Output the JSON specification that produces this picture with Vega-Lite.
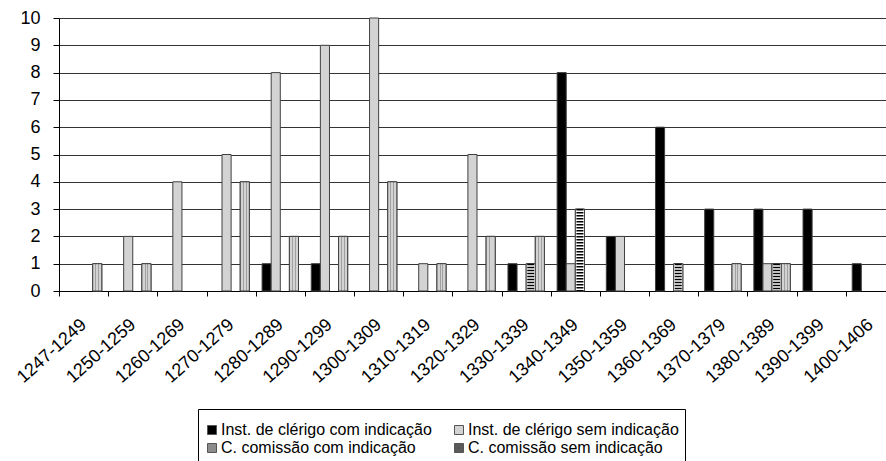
{
  "$schema": "https://vega.github.io/schema/vega-lite/v6.json",
  "autosize": {"type": "none"},
  "width": 836,
  "height": 273,
  "padding": {"left": 59, "top": 18, "right": 0, "bottom": 170},
  "background": "white",
  "data": {
    "values": [
      {"cat": "1247-1249", "series": "C. comissão sem indicação", "value": 1},
      {"cat": "1250-1259", "series": "Inst. de clérigo sem indicação", "value": 2},
      {"cat": "1250-1259", "series": "C. comissão sem indicação", "value": 1},
      {"cat": "1260-1269", "series": "Inst. de clérigo sem indicação", "value": 4},
      {"cat": "1270-1279", "series": "Inst. de clérigo sem indicação", "value": 5},
      {"cat": "1270-1279", "series": "C. comissão sem indicação", "value": 4},
      {"cat": "1280-1289", "series": "Inst. de clérigo com indicação", "value": 1},
      {"cat": "1280-1289", "series": "Inst. de clérigo sem indicação", "value": 8},
      {"cat": "1280-1289", "series": "C. comissão sem indicação", "value": 2},
      {"cat": "1290-1299", "series": "Inst. de clérigo com indicação", "value": 1},
      {"cat": "1290-1299", "series": "Inst. de clérigo sem indicação", "value": 9},
      {"cat": "1290-1299", "series": "C. comissão sem indicação", "value": 2},
      {"cat": "1300-1309", "series": "Inst. de clérigo sem indicação", "value": 10},
      {"cat": "1300-1309", "series": "C. comissão sem indicação", "value": 4},
      {"cat": "1310-1319", "series": "Inst. de clérigo sem indicação", "value": 1},
      {"cat": "1310-1319", "series": "C. comissão sem indicação", "value": 1},
      {"cat": "1320-1329", "series": "Inst. de clérigo sem indicação", "value": 5},
      {"cat": "1320-1329", "series": "C. comissão sem indicação", "value": 2},
      {"cat": "1330-1339", "series": "Inst. de clérigo com indicação", "value": 1},
      {"cat": "1330-1339", "series": "C. comissão com indicação", "value": 1},
      {"cat": "1330-1339", "series": "C. comissão sem indicação", "value": 2},
      {"cat": "1340-1349", "series": "Inst. de clérigo com indicação", "value": 8},
      {"cat": "1340-1349", "series": "Inst. de clérigo sem indicação", "value": 1},
      {"cat": "1340-1349", "series": "C. comissão com indicação", "value": 3},
      {"cat": "1350-1359", "series": "Inst. de clérigo com indicação", "value": 2},
      {"cat": "1350-1359", "series": "Inst. de clérigo sem indicação", "value": 2},
      {"cat": "1360-1369", "series": "Inst. de clérigo com indicação", "value": 6},
      {"cat": "1360-1369", "series": "C. comissão com indicação", "value": 1},
      {"cat": "1370-1379", "series": "Inst. de clérigo com indicação", "value": 3},
      {"cat": "1370-1379", "series": "C. comissão sem indicação", "value": 1},
      {"cat": "1380-1389", "series": "Inst. de clérigo com indicação", "value": 3},
      {"cat": "1380-1389", "series": "Inst. de clérigo sem indicação", "value": 1},
      {"cat": "1380-1389", "series": "C. comissão com indicação", "value": 1},
      {"cat": "1380-1389", "series": "C. comissão sem indicação", "value": 1},
      {"cat": "1390-1399", "series": "Inst. de clérigo com indicação", "value": 3},
      {"cat": "1400-1406", "series": "Inst. de clérigo com indicação", "value": 1}
    ]
  },
  "encoding": {
    "x": {
      "field": "cat", "type": "nominal", "sort": null,
      "scale": {
        "domain": ["1247-1249","1250-1259","1260-1269","1270-1279","1280-1289","1290-1299","1300-1309","1310-1319","1320-1329","1330-1339","1340-1349","1350-1359","1360-1369","1370-1379","1380-1389","1390-1399","1400-1406"],
        "paddingInner": 0, "paddingOuter": 0
      },
      "axis": {
        "title": null, "tickBand": "extent", "labelAngle": -42, "labelAlign": "right", "labelBaseline": "middle",
        "labelPadding": 26, "tickSize": 5, "tickColor": "#000", "domainColor": "#000", "labelColor": "#000",
        "labelFont": "Liberation Sans", "labelFontSize": 18, "grid": false
      }
    },
    "xOffset": {
      "field": "series", "type": "nominal",
      "scale": {"domain": ["Inst. de clérigo com indicação", "Inst. de clérigo sem indicação", "C. comissão com indicação", "C. comissão sem indicação"], "paddingInner": 0, "paddingOuter": 0.7}
    },
    "y": {
      "field": "value", "type": "quantitative",
      "scale": {"domain": [0, 10], "nice": false},
      "axis": {
        "title": null, "values": [0,1,2,3,4,5,6,7,8,9,10], "grid": true, "gridColor": "#333", "gridWidth": 1,
        "tickSize": 6, "tickColor": "#000", "domainColor": "#000", "labelPadding": 13, "labelColor": "#000",
        "labelFont": "Liberation Sans", "labelFontSize": 18
      }
    }
  },
  "layer": [
    {
      "mark": {"type": "bar", "stroke": "#404040", "strokeWidth": 1},
      "encoding": {
        "color": {
          "field": "series", "type": "nominal",
          "scale": {"domain": ["Inst. de clérigo com indicação", "Inst. de clérigo sem indicação", "C. comissão com indicação", "C. comissão sem indicação"], "range": ["#000000", "#d3d3d3", "#8c8c8c", "#5a5a5a"]},
          "legend": {
            "title": " ", "titleFontSize": 5, "titlePadding": 2,
            "orient": "none", "legendX": 139, "legendY": 391, "direction": "horizontal", "columns": 2,
            "columnPadding": 19, "rowPadding": 2, "padding": 6, "strokeColor": "#000", "fillColor": "#fff",
            "symbolType": "square", "symbolSize": 81, "symbolStrokeColor": "#555", "symbolStrokeWidth": 1, "symbolOpacity": 1,
            "labelFont": "Liberation Sans", "labelFontSize": 16, "labelColor": "#000", "labelOffset": 1, "labelLimit": 400
          }
        }
      }
    },
    {
      "transform": [{"filter": "datum.series === 'C. comissão sem indicação'"}],
      "mark": {"type": "bar", "stroke": "#404040", "strokeWidth": 1, "color": {"gradient": "linear", "x1": 0, "y1": 0, "x2": 1, "y2": 0, "stops": [
        {"offset": 0, "color": "#d3d3d3"}, {"offset": 0.3, "color": "#d3d3d3"}, {"offset": 0.3, "color": "#a0a0a0"}, {"offset": 0.4, "color": "#a0a0a0"},
        {"offset": 0.4, "color": "#d3d3d3"}, {"offset": 0.6, "color": "#d3d3d3"}, {"offset": 0.6, "color": "#a0a0a0"}, {"offset": 0.7, "color": "#a0a0a0"},
        {"offset": 0.7, "color": "#d3d3d3"}, {"offset": 1, "color": "#d3d3d3"}]}},
      "encoding": {}
    },
    {
      "transform": [{"filter": "datum.series === 'C. comissão com indicação'"}],
      "mark": {"type": "bar", "stroke": "#404040", "strokeWidth": 1, "color": "#ffffff"},
      "encoding": {}
    },
    {
      "transform": [{"filter": "datum.series === 'C. comissão com indicação'"}],
      "mark": {"type": "rule", "color": "#000", "strokeWidth": 7, "strokeDash": [1.5, 1.5]},
      "encoding": {"y2": {"datum": 0}}
    }
  ],
  "config": {"view": {"stroke": null}}
}
